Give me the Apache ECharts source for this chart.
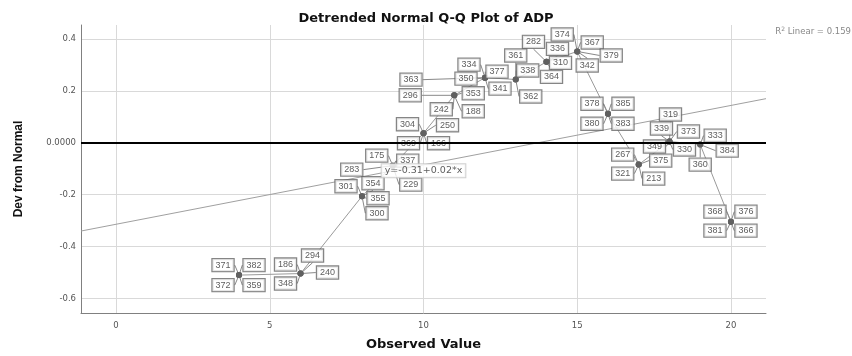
<!DOCTYPE html>
<html>
<head>
<meta charset="utf-8">
<script src="https://cdn.jsdelivr.net/npm/echarts@6/dist/echarts.min.js"></script>
<style>
html,body{margin:0;padding:0;background:#fff;}
#chart{width:852px;height:356px;}
</style>
</head>
<body>
<div id="chart"></div>
<script>
// ---- data ----
const observed = [4, 6, 8, 9, 10, 11, 12, 13, 14, 15, 16, 17, 18, 19, 20];
const deviation = [-0.510, -0.504, -0.206, -0.088, 0.037, 0.183, 0.251, 0.244, 0.312, 0.352, 0.112, -0.084, 0.005, -0.007, -0.304];
const caseLabels = [
  ['371', '382', '372', '359'],
  ['186', '294', '348', '240'],
  ['301', '354', '355', '300'],
  ['175', '337', '283', '229'],
  ['304', '250', '369', '166'],
  ['296', '242', '188', '353'],
  ['363', '350', '334', '377', '341'],
  ['361', '338', '362'],
  ['282', '336', '310', '364'],
  ['374', '367', '379', '342'],
  ['378', '385', '380', '383'],
  ['267', '375', '321', '213'],
  ['319', '339', '373', '349', '330'],
  ['333', '384', '360'],
  ['368', '376', '381', '366']
];
const fitIntercept = -0.314;
const fitSlope = 0.0229;
const equationText = 'y=-0.31+0.02*x';
const rSquaredText = '0.159';
const xTicks = [0, 5, 10, 15, 20];
const yTicks = [-0.6, -0.4, -0.2, 0, 0.2, 0.4];

// ---- layout (label box offsets in px, relative to the point) ----
const labelOffsets = [
  [[-16, -10], [15, -10], [-16, 10], [15, 10]],
  [[-15, -9], [12, -18], [-15, 10], [27, -1]],
  [[-16, -10], [11, -13], [16, 2], [15, 17]],
  [[-16, -10], [15, -5], [-41, 4], [18, 19]],
  [[-16, -9], [24, -8], [-15, 10], [15, 10]],
  [[-44, 0], [-13, 14], [19, 16], [19, -2]],
  [[-74, 2], [-19, 1], [-16, -13], [12, -6], [15, 11]],
  [[0, -24], [12, -9], [15, 17]],
  [[-13, -20], [11, -13], [14, 1], [5, 15]],
  [[-15, -17], [15, -9], [34, 4], [10, 14]],
  [[-16, -10], [15, -10], [-16, 10], [15, 10]],
  [[-16, -10], [22, -4], [-16, 9], [15, 14]],
  [[1, -27], [-8, -13], [19, -10], [-15, 5], [15, 8]],
  [[15, -9], [27, 6], [0, 20]],
  [[-16, -10], [15, -10], [-16, 9], [15, 9]]
];

const X_MIN = -1.14, X_MAX = 21.14, Y_MIN = -0.656, Y_MAX = 0.454;
const FONT = '"Liberation Sans", Arial, sans-serif';
const WIDE = '"DejaVu Sans", "Liberation Sans", sans-serif';

const labelData = [];
const flatOffsets = [];
observed.forEach((x, i) => {
  caseLabels[i].forEach((c, j) => {
    labelData.push({ value: [x, deviation[i]], name: c });
    flatOffsets.push(labelOffsets[i][j]);
  });
});
const pointData = observed.map((x, i) => [x, deviation[i]]);
const fitData = [[X_MIN, fitIntercept + fitSlope * X_MIN], [X_MAX, fitIntercept + fitSlope * X_MAX]];
const eqX = 10;

const chart = echarts.init(document.getElementById('chart'), null, { renderer: 'canvas' });
chart.setOption({
  animation: false,
  backgroundColor: '#fff',
  title: {
    text: 'Detrended Normal Q-Q Plot of ADP',
    left: 'center',
    top: 7,
    textStyle: { fontFamily: WIDE, fontSize: 13, fontWeight: 'bold', color: '#111' }
  },
  graphic: [{
    type: 'text',
    right: 1,
    top: 26,
    style: {
      text: 'R{s|2} Linear = ' + rSquaredText,
      rich: { s: { fontSize: 6, fontFamily: WIDE, verticalAlign: 'top', padding: [0, 0, 5, 0], fill: '#888' } },
      font: '8.5px ' + WIDE,
      fill: '#888'
    }
  }],
  grid: { left: 81, right: 86, top: 25, bottom: 40 },
  xAxis: {
    type: 'value',
    min: X_MIN, max: X_MAX,
    name: 'Observed Value',
    nameLocation: 'middle',
    nameGap: 25,
    nameTextStyle: { fontFamily: WIDE, fontSize: 13, fontWeight: 'bold', color: '#111' },
    axisLine: { show: true, onZero: false, lineStyle: { color: '#808080', width: 1 } },
    axisTick: { show: false, customValues: xTicks },
    axisLabel: { customValues: xTicks, fontFamily: WIDE, fontSize: 8.5, color: '#555', margin: 8 },
    splitLine: { show: true, lineStyle: { color: '#d9d9d9', width: 1 } }
  },
  yAxis: {
    type: 'value',
    min: Y_MIN, max: Y_MAX,
    name: 'Dev from Normal',
    nameLocation: 'middle',
    nameGap: 56,
    nameRotate: 90,
    nameTextStyle: { fontFamily: FONT, fontSize: 12, fontWeight: 'bold', color: '#111' },
    axisLine: { show: true, onZero: false, lineStyle: { color: '#808080', width: 1 } },
    axisTick: { show: false, customValues: yTicks },
    axisLabel: {
      customValues: yTicks, fontFamily: WIDE, fontSize: 8.5, color: '#555', margin: 5,
      formatter: v => (Math.abs(v) < 1e-9 ? '0.0000' : v.toFixed(1))
    },
    splitLine: { show: true, lineStyle: { color: '#d9d9d9', width: 1 } }
  },
  series: [
    {
      name: 'fit',
      type: 'line',
      data: fitData,
      symbol: 'none',
      lineStyle: { color: '#a0a0a0', width: 1 },
      z: 2,
      silent: true
    },
    {
      name: 'path',
      type: 'line',
      data: pointData,
      symbol: 'none',
      lineStyle: { color: '#9a9a9a', width: 1 },
      z: 3,
      silent: true
    },
    {
      name: 'cases',
      type: 'scatter',
      data: labelData,
      symbol: 'circle',
      symbolSize: 6,
      itemStyle: { color: '#606060' },
      z: 4,
      label: {
        show: true,
        position: 'inside',
        formatter: p => p.name,
        fontFamily: FONT,
        fontSize: 9,
        color: '#333',
        backgroundColor: '#fff',
        borderColor: '#666',
        borderWidth: 1.2,
        padding: [1, 3, 1, 3],
        lineHeight: 10
      },
      labelLine: { show: true, lineStyle: { color: '#888', width: 1 } },
      labelLayout: p => {
        const o = flatOffsets[p.dataIndex];
        return { dx: o[0], dy: o[1] };
      }
    },
    {
      name: 'equation',
      type: 'scatter',
      data: [[eqX, fitIntercept + fitSlope * eqX]],
      symbolSize: 0,
      z: 6,
      label: {
        show: true,
        position: 'inside',
        offset: [0, 6],
        formatter: equationText,
        fontFamily: WIDE,
        fontSize: 9.5,
        color: '#333',
        backgroundColor: '#fff',
        borderColor: '#c4c4c4',
        borderWidth: 1,
        padding: [2, 3, 1, 3]
      },
      markLine: {
        silent: true,
        symbol: 'none',
        label: { show: false },
        lineStyle: { color: '#000', width: 2, type: 'solid' },
        data: [{ yAxis: 0 }],
        z: 10
      }
    }
  ]
});
</script>
</body>
</html>
